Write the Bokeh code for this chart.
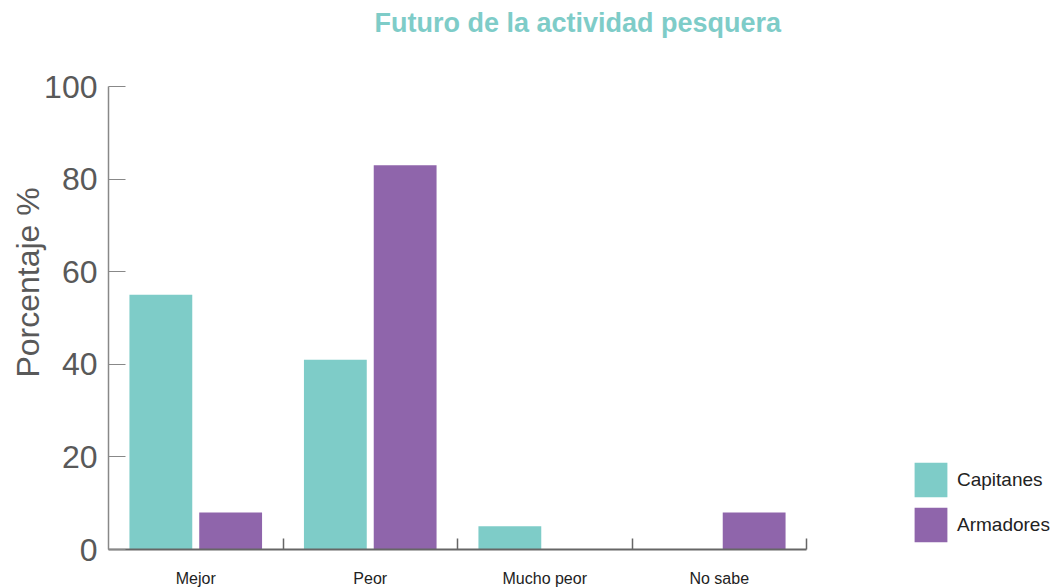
from bokeh.plotting import figure
from bokeh.models import (Range1d, FixedTicker, CustomJSTickFormatter,
                          Legend, LegendItem, ColumnDataSource, Title)
from bokeh.embed import file_html
from bokeh.resources import INLINE

categories = ["Mejor", "Peor", "Mucho peor", "No sabe"]
capitanes = [55, 41, 5, 0]
armadores = [8, 83, 0, 8]
y_ticks = [0, 20, 40, 60, 80, 100]
title_text = "Futuro de la actividad pesquera"
y_label = "Porcentaje %"

TEAL = "#7ECCC8"
PURPLE = "#8F65AB"
FONT = "Liberation Sans"

idx = list(range(len(categories)))
src = ColumnDataSource(dict(
    xc=[i + 0.30 for i in idx],
    xa=[i + 0.70 for i in idx],
    cap=capitanes,
    arm=armadores,
))

p = figure(frame_width=698, frame_height=463,
           min_border_left=108, min_border_right=256,
           min_border_top=86, min_border_bottom=39,
           x_range=Range1d(0, len(categories)), y_range=Range1d(0, 100),
           title=None,
           output_backend="svg", toolbar_location=None)
p.outline_line_color = None
p.xgrid.visible = False
p.ygrid.visible = False

# spacer between frame and title (inner), then the real title (outer)
p.add_layout(Title(text=" ", text_font_size="1px", standoff=46), "above")
p.add_layout(Title(text=title_text, align="left", offset=266, standoff=0,
                   text_font=FONT, text_font_size="27px",
                   text_font_style="bold", text_color=TEAL), "above")

r1 = p.vbar(x="xc", top="cap", width=0.36, source=src, fill_color=TEAL, line_color=None)
r2 = p.vbar(x="xa", top="arm", width=0.36, source=src, fill_color=PURPLE, line_color=None)

# x axis
xa = p.xaxis[0]
xa.ticker = FixedTicker(ticks=[i + 0.5 for i in idx], minor_ticks=[i + 1 for i in idx])
xa.formatter = CustomJSTickFormatter(args=dict(labels=categories),
                                     code="return labels[Math.floor(tick)];")
xa.major_tick_in = 0
xa.major_tick_out = 0
xa.minor_tick_in = 11
xa.minor_tick_out = 0
xa.minor_tick_line_color = "#666666"
xa.minor_tick_line_width = 1.5
xa.axis_line_color = "#666666"
xa.axis_line_width = 2
xa.major_label_text_font = FONT
xa.major_label_text_font_size = "16px"
xa.major_label_text_color = "#222222"
xa.major_label_standoff = 20

# y axis
ya = p.yaxis[0]
ya.ticker = FixedTicker(ticks=y_ticks)
ya.major_tick_in = 17
ya.major_tick_out = 0
ya.major_tick_line_color = "#888888"
ya.major_tick_line_width = 1.2
ya.minor_tick_line_color = None
ya.axis_line_color = "#888888"
ya.axis_line_width = 1.5
ya.major_label_text_font = FONT
ya.major_label_text_font_size = "32px"
ya.major_label_text_color = "#595959"
ya.major_label_standoff = 11
ya.axis_label = "\u00a0" * 8 + y_label
ya.axis_label_standoff = -5
ya.axis_label_text_font = FONT
ya.axis_label_text_font_size = "32px"
ya.axis_label_text_font_style = "normal"
ya.axis_label_text_color = "#595959"

legend = Legend(items=[LegendItem(label="Capitanes", renderers=[r1]),
                       LegendItem(label="Armadores", renderers=[r2])],
                location=(104, 3), padding=0, margin=0, spacing=2,
                glyph_width=41, glyph_height=43, label_standoff=6,
                border_line_color=None, background_fill_alpha=0,
                label_text_font=FONT, label_text_font_size="19px",
                label_text_color="#222222")
p.add_layout(legend, "right")

open("out.html", "w").write(file_html(p, INLINE))
